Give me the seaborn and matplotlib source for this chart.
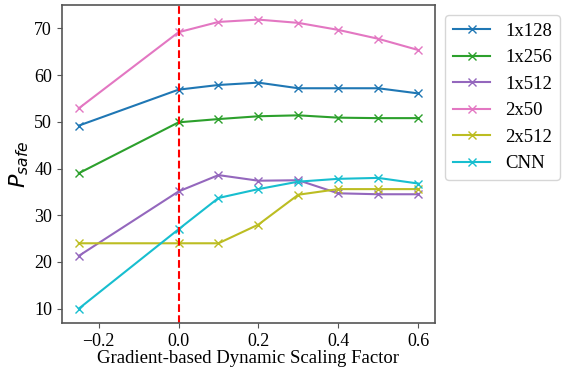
import numpy as np
import pandas as pd
import matplotlib
matplotlib.use("Agg")
import matplotlib.pyplot as plt
import seaborn as sns

# --- Data ---
scales = [-0.25, 0.0, 0.1, 0.2, 0.3, 0.4, 0.5, 0.6]
p_1x128 = [49.2, 56.9, 57.9, 58.4, 57.2, 57.2, 57.2, 56.1]
p_1x256 = [39.0, 49.9, 50.6, 51.2, 51.4, 50.9, 50.8, 50.8]
p_1x512 = [21.3, 35.1, 38.6, 37.4, 37.5, 34.7, 34.5, 34.5]
p_2x50 = [52.9, 69.2, 71.4, 71.9, 71.2, 69.7, 67.8, 65.4]
p_2x512 = [24.0, 24.0, 24.0, 28.0, 34.4, 35.6, 35.6, 35.6]
p_cnn = [10.0, 27.0, 33.7, 35.6, 37.2, 37.8, 38.0, 36.8]

models = ["1x128", "1x256", "1x512", "2x50", "2x512", "CNN"]
values = [p_1x128, p_1x256, p_1x512, p_2x50, p_2x512, p_cnn]
colors = ["#1f77b4", "#2ca02c", "#9467bd", "#e377c2", "#bcbd22", "#17becf"]

# --- Plot ---
plt.rcParams["font.family"] = ["Liberation Serif", "DejaVu Serif"]

fig = plt.figure(figsize=(5.62, 3.68), dpi=100)
ax = fig.add_axes([0.110, 0.122, 0.664, 0.864])

for name, vals, col in zip(models, values, colors):
    df = pd.DataFrame({"scale": scales, "p_safe": vals})
    sns.lineplot(data=df, x="scale", y="p_safe", color=col, marker="x",
                 markersize=6, markeredgecolor=col, markeredgewidth=1,
                 linewidth=1.5, label=name, ax=ax)
ax.axvline(0.0, color="red", linestyle="--", linewidth=1.5)

ax.set_xlabel("Gradient-based Dynamic Scaling Factor", fontsize=13.5, labelpad=0)
ax.set_ylabel("$P_{safe}$", fontsize=16, labelpad=2)
ax.tick_params(labelsize=13, color="#555555", length=3.5)
for sp in ax.spines.values():
    sp.set_color("#555555")
    sp.set_linewidth(1.2)

ax.legend(loc="upper left", bbox_to_anchor=(1.028, 0.968), borderaxespad=0,
          frameon=True, fontsize=13.5, labelspacing=0.5, edgecolor="#cccccc")

fig.savefig("out.png", dpi=100)
